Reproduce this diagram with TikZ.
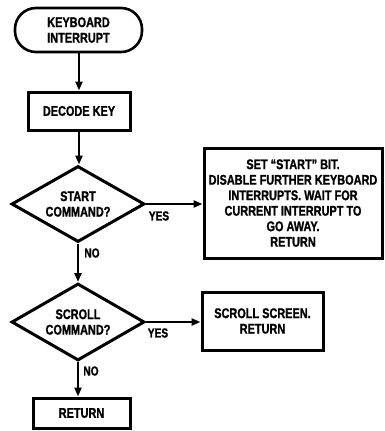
\documentclass[tikz,border=0pt]{standalone}
\usepackage{fontspec}
\setmainfont{Liberation Sans}[FakeStretch=0.78,FakeBold=1.2]
\usetikzlibrary{shapes.geometric,arrows.meta}
\begin{document}
\begin{tikzpicture}[x=1pt,y=-1pt,
  every node/.style={font=\fontsize{14}{15.5}\selectfont\bfseries, align=center, inner sep=0pt},
  box/.style={draw, line width=3pt, rectangle},
  term/.style={draw, line width=2.6pt, rectangle, rounded corners=21pt},
  dec/.style={draw, line width=3pt, diamond, aspect=1.75},
  arr/.style={line width=2.2pt, -{Triangle[length=9pt,width=7pt]}},
  lbl/.style={font=\fontsize{13}{14}\selectfont\bfseries}]
\useasboundingbox (0,0) rectangle (385,431);
\node[term, minimum width=127pt, minimum height=44pt] (kb) at (78.5,30) {KEYBOARD\\INTERRUPT};
\node[box, minimum width=102pt, minimum height=38pt] (dk) at (79,111) {DECODE KEY};
\node[dec, minimum width=133pt, minimum height=76pt] (st) at (78,204) {START\\COMMAND?};
\node[box, minimum width=178pt, minimum height=110pt, text depth=0pt] (ac) at (293,203) {\rule{0pt}{8pt}SET ``START'' BIT.\\DISABLE FURTHER KEYBOARD\\INTERRUPTS. WAIT FOR\\CURRENT INTERRUPT TO\\GO AWAY.\\RETURN};
\node[dec, minimum width=133pt, minimum height=77pt] (sc) at (78,322) {SCROLL\\COMMAND?};
\node[box, minimum width=121pt, minimum height=58pt] (ss) at (262.5,321) {SCROLL SCREEN.\\RETURN};
\node[box, minimum width=97pt, minimum height=30pt] (rt) at (81.5,413) {RETURN};
\draw[arr] (kb.south -| dk.north) -- (dk.north);
\draw[arr] (dk.south) -- (dk.south |- st.north);
\draw[arr] (st.east) -- (st.east -| ac.west);
\draw[arr] (st.south) -- (sc.north);
\draw[arr] (sc.east) -- (sc.east -| ss.west);
\draw[arr] (sc.south) -- (sc.south |- rt.north);
\node[lbl] (y1) at (159,216) {YES};
\node[lbl] (n1) at (92,253) {NO};
\node[lbl] (y2) at (158,333) {YES};
\node[lbl] (n2) at (91,371) {NO};
\end{tikzpicture}
\end{document}
